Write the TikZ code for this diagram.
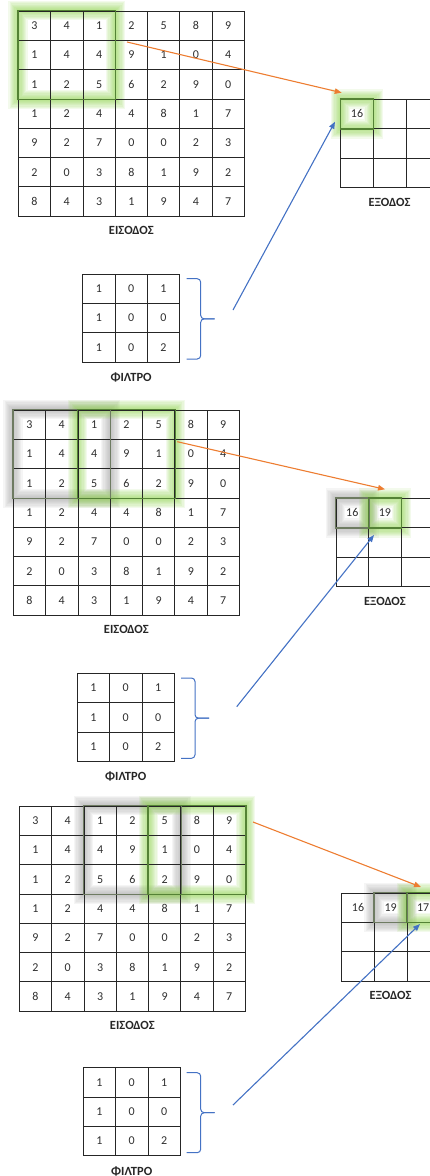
\documentclass[tikz,border=0pt]{standalone}
\usepackage{fontspec}
\setmainfont{Carlito}
\usetikzlibrary{arrows.meta,calc}
\pgfdeclarelayer{bg}
\pgfsetlayers{bg,main}

\definecolor{gridline}{HTML}{262626}
\definecolor{digit}{HTML}{2E2E2E}
\definecolor{arrorange}{HTML}{ED7D31}
\definecolor{arrblue}{HTML}{4472C4}
\definecolor{glowgreen}{HTML}{8FD24E}
\definecolor{edgegreen}{HTML}{548235}
\definecolor{glowgray}{HTML}{A4A4A4}
\definecolor{edgegray}{HTML}{6E7B62}

\tikzset{
  cell/.style={draw=gridline, line width=0.8pt, minimum width=32.3pt,
    minimum height=29.3pt, inner sep=0pt, text=digit,
    font=\fontsize{12}{14}\selectfont},
  outcell/.style={cell, minimum width=32.6pt},
  caption/.style={font=\bfseries\fontsize{12.5}{15}\selectfont, text=black!85},
  flow/.style={line width=1.1pt, -{Triangle[length=7pt,width=5.5pt]}},
  orangeflow/.style={flow, draw=arrorange},
  blueflow/.style={flow, draw=arrblue},
  bracket/.style={draw=arrblue, line width=1pt, rounded corners=3.5pt},
  windowgreen/.style={draw=edgegreen, line width=1.4pt},
  windowgray/.style={draw=edgegray, line width=1.2pt},
}

% grid of cell nodes: #1 style, #2 name prefix, #3 left, #4 top, #5 cell width, #6 rows
\newcommand\cellgrid[6]{%
  \foreach \rowvals [count=\ri from 0] in {#6} {
    \foreach \v [count=\ci from 0] in \rowvals {
      \node[#1] (#2-\ri-\ci) at ({#3+(\ci+0.5)*#5}, {#4+(\ri+0.5)*29.3}) {\v};
    }
  }
}
% the 7x7 input and the 3x3 filter
\newcommand\inputgrid[3]{\cellgrid{cell}{#1}{#2}{#3}{32.3}{%
  {3,4,1,2,5,8,9},{1,4,4,9,1,0,4},{1,2,5,6,2,9,0},{1,2,4,4,8,1,7},
  {9,2,7,0,0,2,3},{2,0,3,8,1,9,2},{8,4,3,1,9,4,7}}}
\newcommand\filtergrid[3]{\cellgrid{cell}{#1}{#2}{#3}{32.3}{%
  {1,0,1},{1,0,0},{1,0,2}}}
% soft halo behind a window: #1 colour, #2 first cell, #3 last cell
\newcommand\halo[3]{%
  \begin{pgfonlayer}{bg}
    \foreach \k in {1,...,8}
      \draw[#1, line width=2.4pt*\k, opacity=0.11]
        (#2.north west) rectangle (#3.south east);
  \end{pgfonlayer}}
% curly bracket to the right of a filter: #1 x, #2 top, #3 bottom
\newcommand\bracketat[3]{%
  \draw[bracket] (#1,#2) -- ({#1+14},#2) -- ({#1+14},{(#2+#3)/2}) -- ({#1+28},{(#2+#3)/2});
  \draw[bracket] (#1,#3) -- ({#1+14},#3) -- ({#1+14},{(#2+#3)/2}) -- ({#1+28},{(#2+#3)/2});}

\begin{document}
\begin{tikzpicture}[x=1pt,y=-1pt]
\useasboundingbox (0,0) rectangle (430,1176);
\clip (0,0) rectangle (430,1176);

% ---------- step 1 ----------
\inputgrid{a}{18.3}{11}
\cellgrid{outcell}{ao}{340.7}{99.3}{32.6}{{16,{},{}},{{},{},{}},{{},{},{}}}
\filtergrid{af}{82.7}{274}
\node[caption] (ain) at ($(a-6-3.south)+(0,14)$) {ΕΙΣΟΔΟΣ};
\node[caption] (aout) at ($(ao-2-1.south)+(0,14.5)$) {ΕΞΟΔΟΣ};
\node[caption] (afl) at ($(af-2-1.south)+(0,15)$) {ΦΙΛΤΡΟ};
\halo{glowgreen}{a-0-0}{a-2-2}
\halo{glowgreen}{ao-0-0}{ao-0-0}
\draw[windowgreen] (a-0-0.north west) rectangle (a-2-2.south east);
\draw[windowgreen] (ao-0-0.north west) rectangle (ao-0-0.south east);
\bracketat{186.7}{278.7}{359}
\coordinate (asrc) at (127,42);
\coordinate (adst) at (341.7,92.7);
\coordinate (abr) at (233,310);
\coordinate (abdst) at (335,121.7);
\draw[orangeflow] (asrc) -- (adst);
\draw[blueflow] (abr) -- (abdst);

% ---------- step 2 ----------
\inputgrid{b}{13.3}{410}
\cellgrid{outcell}{bo}{336}{498.3}{32.6}{{16,19,{}},{{},{},{}},{{},{},{}}}
\filtergrid{bf}{77.3}{673.3}
\node[caption] (bin) at ($(b-6-3.south)+(0,14)$) {ΕΙΣΟΔΟΣ};
\node[caption] (bout) at ($(bo-2-1.south)+(0,14.5)$) {ΕΞΟΔΟΣ};
\node[caption] (bfl) at ($(bf-2-1.south)+(0,15)$) {ΦΙΛΤΡΟ};
\halo{glowgray}{b-0-0}{b-2-2}
\halo{glowgreen}{b-0-2}{b-2-4}
\halo{glowgray}{bo-0-0}{bo-0-0}
\halo{glowgreen}{bo-0-1}{bo-0-1}
\draw[windowgray] (b-0-0.north west) rectangle (b-2-2.south east);
\draw[windowgreen] (b-0-2.north west) rectangle (b-2-4.south east);
\draw[windowgray] (bo-0-0.north west) rectangle (bo-0-0.south east);
\draw[windowgreen] (bo-0-1.north west) rectangle (bo-0-1.south east);
\bracketat{181}{678}{758.3}
\coordinate (bsrc) at (177.3,441.7);
\coordinate (bdst) at (385,489.3);
\coordinate (bbr) at (236.7,706.7);
\coordinate (bbdst) at (374,535);
\draw[orangeflow] (bsrc) -- (bdst);
\draw[blueflow] (bbr) -- (bbdst);

% ---------- step 3 ----------
\inputgrid{c}{19.3}{806}
\cellgrid{outcell}{co}{341.7}{893}{32.6}{{16,19,17},{{},{},{}},{{},{},{}}}
\filtergrid{cf}{83.3}{1067.7}
\node[caption] (cin) at ($(c-6-3.south)+(0,14)$) {ΕΙΣΟΔΟΣ};
\node[caption] (cout) at ($(co-2-1.south)+(0,14.5)$) {ΕΞΟΔΟΣ};
\node[caption] (cfl) at ($(cf-2-1.south)+(0,15)$) {ΦΙΛΤΡΟ};
\halo{glowgray}{c-0-2}{c-2-4}
\halo{glowgreen}{c-0-4}{c-2-6}
\halo{glowgray}{co-0-1}{co-0-1}
\halo{glowgreen}{co-0-2}{co-0-2}
\draw[windowgray] (c-0-2.north west) rectangle (c-2-4.south east);
\draw[windowgreen] (c-0-4.north west) rectangle (c-2-6.south east);
\draw[windowgray] (co-0-1.north west) rectangle (co-0-1.south east);
\draw[windowgreen] (co-0-2.north west) rectangle (co-0-2.south east);
\bracketat{186.7}{1072.7}{1152.7}
\coordinate (csrc) at (253,822);
\coordinate (cdst) at (421,887);
\coordinate (cbr) at (233,1105);
\coordinate (cbdst) at (420,924);
\draw[orangeflow] (csrc) -- (cdst);
\draw[blueflow] (cbr) -- (cbdst);
\end{tikzpicture}
\end{document}
